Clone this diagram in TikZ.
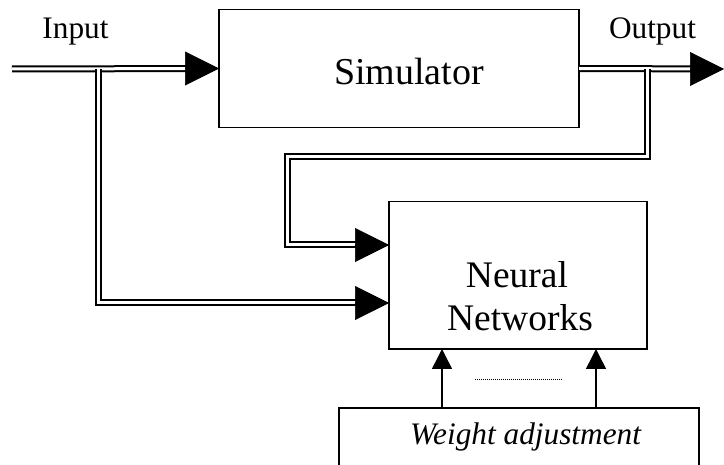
\documentclass[tikz,border=0pt]{standalone}
\usepackage{fontspec}
\setmainfont{Liberation Serif}
\usetikzlibrary{arrows.meta}
\begin{document}
\begin{tikzpicture}[x=1pt,y=-1pt,
  box/.style={draw, line width=1.6pt, inner sep=0pt, outer sep=0pt, rectangle},
  dbl/.style={draw, line width=2pt, double, double distance=3pt, line join=miter},
  bigtip/.style={draw, line width=0.6pt, -{Triangle[length=34pt,width=34pt]}},
  smalltip/.style={draw, line width=1.5pt, -{Triangle[length=20pt,width=20pt]}},
  lbl/.style={anchor=base, inner sep=0pt, font=\fontsize{31.3}{36}\selectfont},
  big/.style={anchor=base, inner sep=0pt, font=\fontsize{38}{44}\selectfont},
  dotline/.style={draw, line width=0.8pt, dash pattern=on 0.8pt off 1.2pt}]
\useasboundingbox (0,0) rectangle (724,465);
\clip (0,0) rectangle (724,465);
% boxes
\node[box, minimum width=360pt, minimum height=118pt] (sim) at (399,68.5) {};
\node[big] (simt) at (409,85) {Simulator};
\node[box, minimum width=258pt, minimum height=147.5pt] (nn) at (518,275.25) {};
\node[big, font=\fontsize{37.5}{44}\selectfont] (nnt1) at (517,288) {Neural};
\node[big, font=\fontsize{37.5}{44}\selectfont] (nnt2) at (520,331) {Networks};
\node[box, minimum width=360pt, minimum height=70pt] (wa) at (519,443) {};
\node[lbl, font={\fontsize{31.3}{36}\selectfont\itshape}] (wat) at (525.5,445) {Weight adjustment};
\node[lbl] (inl) at (75.5,39) {Input};
\node[lbl] (outl) at (652.5,39) {Output};
% coordinates
\coordinate (in) at (12,69);
\coordinate (ij) at (98,69);
\coordinate (oj) at (647,69);
\coordinate (out) at (724,69);
\coordinate (c1) at (287,157);
\coordinate (yA) at (0,245);
\coordinate (yB) at (0,303);
\coordinate (nA) at (nn.west |- yA);
\coordinate (nB) at (nn.west |- yB);
\coordinate (xa) at (442,0);
\coordinate (xb) at (596,0);
\coordinate (d1) at (475,379);
\coordinate (d2) at (562,379);
% double connectors
\draw[dbl, shorten >=30pt] (in) -- (sim.west);
\draw[dbl, shorten >=30pt] (sim.east) -- (out);
\draw[dbl, shorten >=30pt] (ij) |- (nB);
\draw[dbl, shorten >=30pt] (oj) |- (c1) |- (nA);
% arrow heads
\draw[bigtip] ([xshift=-34pt]sim.west) -- (sim.west);
\draw[bigtip] ([xshift=-34pt]out) -- (out);
\draw[bigtip] ([xshift=-34pt]nA) -- (nA);
\draw[bigtip] ([xshift=-34pt]nB) -- (nB);
% weight adjustment arrows
\draw[smalltip] (wa.north -| xa) -- (nn.south -| xa);
\draw[smalltip] (wa.north -| xb) -- (nn.south -| xb);
\draw[dotline] (d1) -- (d2);
\end{tikzpicture}
\end{document}
